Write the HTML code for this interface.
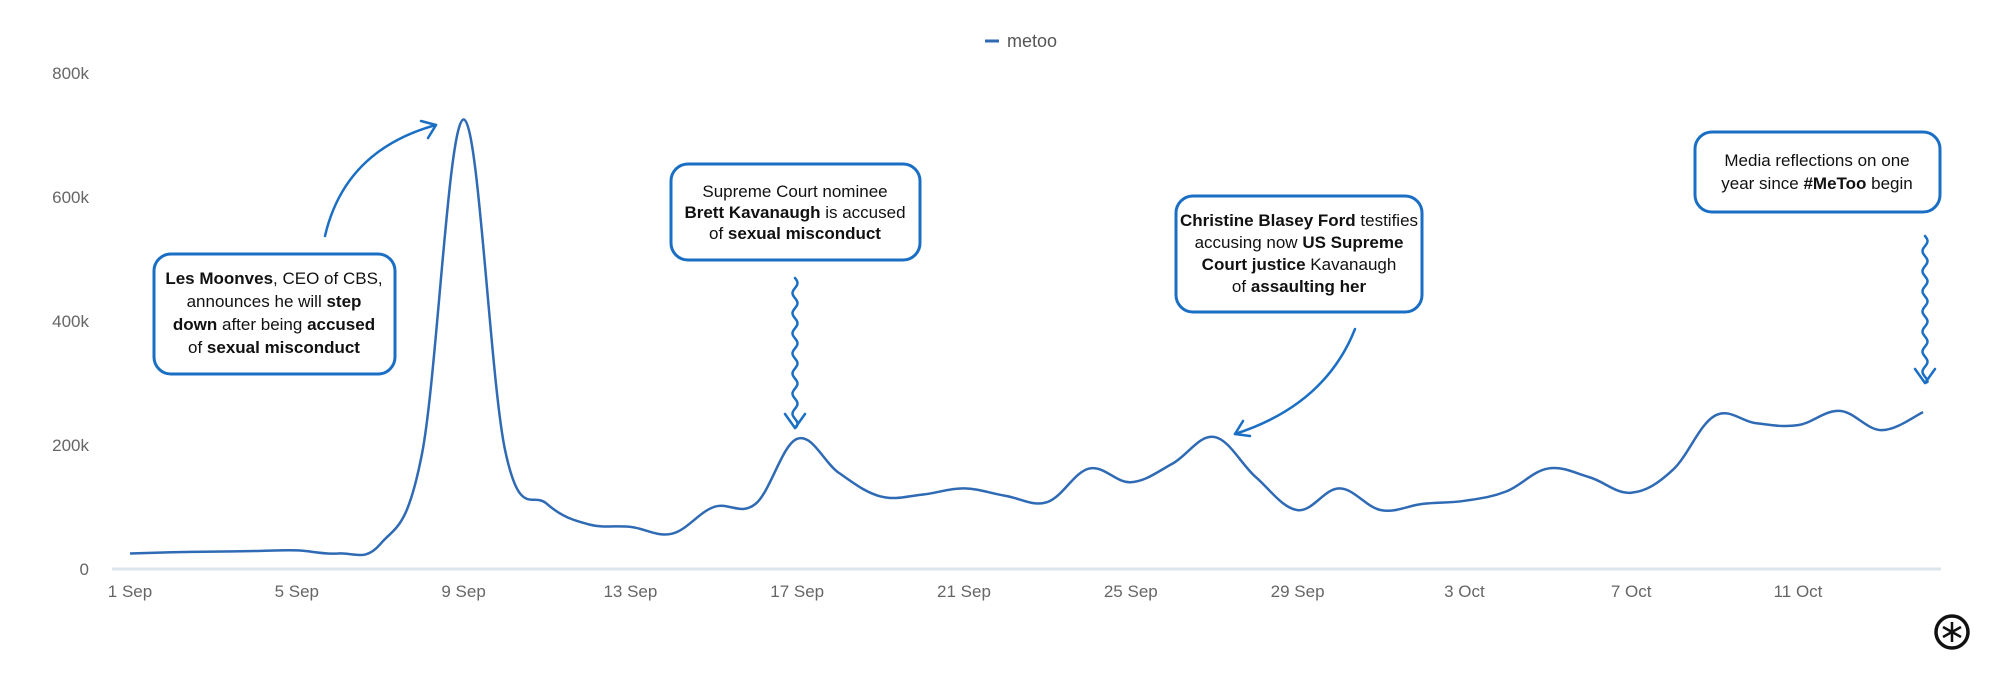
<!DOCTYPE html>
<html><head><meta charset="utf-8"><style>
html,body{margin:0;padding:0;background:#fff;}
svg{display:block;}
text{font-family:"Liberation Sans",sans-serif;}
.ax{fill:#666;font-size:17px;}
.bx{fill:#fff;stroke:#1a6fc4;stroke-width:3;}
.t{font-size:17px;fill:#111;text-anchor:middle;}
.b{font-weight:bold;}
.ar{fill:none;stroke:#1a6fc4;stroke-width:2.5;stroke-linecap:round;stroke-linejoin:round;}
</style></head><body>
<svg id="s" width="2000" height="676" viewBox="0 0 2000 676" xmlns="http://www.w3.org/2000/svg">
<line x1="985" y1="41" x2="999" y2="41" stroke="#2f6ab4" stroke-width="3"/>
<text x="1007" y="47" style="font-size:18px;fill:#555">metoo</text>
<g class="ax" text-anchor="end">
<text x="89" y="79">800k</text>
<text x="89" y="203">600k</text>
<text x="89" y="327">400k</text>
<text x="89" y="451">200k</text>
<text x="89" y="575">0</text>
</g>
<line x1="112" y1="569" x2="1941" y2="569" stroke="#dde5ec" stroke-width="3"/>
<g class="ax" text-anchor="middle" id="xl"></g>
<path id="ln" fill="none" stroke="#2f6ab4" stroke-width="2.5"/>

<rect class="bx" x="154" y="254" width="241" height="120" rx="17"/>
<text class="t" y="284" x="274"><tspan class="b">Les Moonves</tspan>, CEO of CBS,</text>
<text class="t" y="307" x="274">announces he will <tspan class="b">step</tspan></text>
<text class="t" y="330" x="274"><tspan class="b">down</tspan> after being <tspan class="b">accused</tspan></text>
<text class="t" y="353" x="274">of <tspan class="b">sexual misconduct</tspan></text>

<rect class="bx" x="671" y="164" width="249" height="96" rx="17"/>
<text class="t" y="197" x="795">Supreme Court nominee</text>
<text class="t" y="218" x="795"><tspan class="b">Brett Kavanaugh</tspan> is accused</text>
<text class="t" y="239" x="795">of <tspan class="b">sexual misconduct</tspan></text>

<rect class="bx" x="1176" y="196" width="246" height="116" rx="17"/>
<text class="t" y="226" x="1299"><tspan class="b">Christine Blasey Ford</tspan> testifies</text>
<text class="t" y="248" x="1299">accusing now <tspan class="b">US Supreme</tspan></text>
<text class="t" y="270" x="1299"><tspan class="b">Court justice</tspan> Kavanaugh</text>
<text class="t" y="292" x="1299">of <tspan class="b">assaulting her</tspan></text>

<rect class="bx" x="1695" y="132" width="245" height="80" rx="17"/>
<text class="t" y="166" x="1817">Media reflections on one</text>
<text class="t" y="189" x="1817">year since <tspan class="b">#MeToo</tspan> begin</text>

<path class="ar" d="M325,236 Q345,150 436,125"/>
<path class="ar" d="M421,121 L436,125 L428,138"/>
<path class="ar" id="w1"/>
<path class="ar" d="M785,414 L795,428 L805,414"/>
<path class="ar" d="M1355,329 Q1325,405 1235,434"/>
<path class="ar" d="M1243,421 L1235,434 L1250,436"/>
<path class="ar" id="w2"/>
<path class="ar" d="M1915,369 L1925,383 L1935,369"/>

<g transform="translate(1952,632)">
<circle r="16" fill="none" stroke="#111" stroke-width="3.5"/>
<g stroke="#111" stroke-width="2.5"><line x1="0" y1="-10" x2="0" y2="10"/><line x1="-9" y1="-5" x2="9" y2="5"/><line x1="-9" y1="5" x2="9" y2="-5"/></g>
</g>
</svg>
<script>
var d=[25,27,28,29,30,25,40,185,725,190,105,72,68,57,100,105,210,155,117,120,130,118,108,162,140,170,213,148,95,130,95,105,110,125,162,148,123,160,247,235,232,255,224,253];
function X(i){return 130+i*41.7;}function Y(v){return 569-v*0.62;}
var p=d.map(function(v,i){return [X(i),Y(v)];});
var s="M"+p[0][0]+","+p[0][1];
for(var i=0;i<p.length-1;i++){var p0=p[i-1]||p[i],p1=p[i],p2=p[i+1],p3=p[i+2]||p2,t=0.18;
s+=" C"+(p1[0]+(p2[0]-p0[0])*t)+","+(p1[1]+(p2[1]-p0[1])*t)+" "+(p2[0]-(p3[0]-p1[0])*t)+","+(p2[1]-(p3[1]-p1[1])*t)+" "+p2[0]+","+p2[1];}
document.getElementById("ln").setAttribute("d",s);
var lb=["1 Sep","5 Sep","9 Sep","13 Sep","17 Sep","21 Sep","25 Sep","29 Sep","3 Oct","7 Oct","11 Oct"],g=document.getElementById("xl");
lb.forEach(function(l,k){var t=document.createElementNS("http://www.w3.org/2000/svg","text");t.setAttribute("x",X(k*4));t.setAttribute("y",597);t.textContent=l;g.appendChild(t);});
function wave(x,y0,y1){var s="M"+x+","+y0;for(var y=y0;y<y1;y+=1){s+=" L"+(x+2.5*Math.sin((y-y0)/3.2))+","+y;}return s+" L"+x+","+y1;}
document.getElementById("w1").setAttribute("d",wave(795,278,428));
document.getElementById("w2").setAttribute("d",wave(1925,236,383));
</script>
</body></html>
